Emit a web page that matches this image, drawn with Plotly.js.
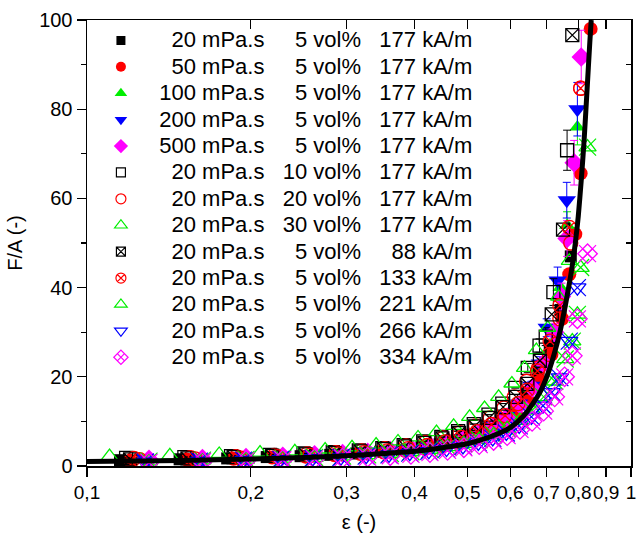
<!DOCTYPE html>
<html><head><meta charset="utf-8">
<script src="https://cdn.plot.ly/plotly-3.0.1.min.js"></script>
<style>html,body{margin:0;padding:0;background:#fff}</style>
</head><body><div id="chart" style="width:638px;height:533px"></div>
<script>
// ---- data ----
const viscosity = [20, 50, 100, 200, 500, 20, 20, 20, 20, 20, 20, 20, 20];
const volumeFraction = [5, 5, 5, 5, 5, 10, 20, 30, 5, 5, 5, 5, 5];
const fieldStrength = [177, 177, 177, 177, 177, 177, 177, 177, 88, 133, 221, 266, 334];
const xTickVals = [0.1, 0.2, 0.3, 0.4, 0.5, 0.6, 0.7, 0.8, 0.9, 1];
const xTickText = ['0,1', '0,2', '0,3', '0,4', '0,5', '0,6', '0,7', '0,8', '0,9', '1'];

const eps1 = [0.115,0.148,0.181,0.214,0.247,0.28,0.313,0.346,0.379,0.412,0.445,0.478,0.511,0.544,0.577,0.61,0.643,0.676,0.709,0.742,0.775];
const fa1  = [1.3,1.5,1.7,2.0,2.2,2.5,2.8,3.2,3.6,4.2,4.9,5.8,6.9,8.3,10.2,12.8,16.0,21,27,35,47];
const eps2 = [0.12,0.153,0.186,0.219,0.252,0.285,0.318,0.351,0.384,0.417,0.45,0.483,0.516,0.549,0.582,0.615,0.648,0.681,0.714,0.747,0.77,0.79,0.808,0.843];
const fa2  = [1.2,1.4,1.6,1.9,2.1,2.4,2.7,3.0,3.4,3.9,4.5,5.3,6.2,7.5,9.2,11.5,14.5,19,25,33,43,52,65.6,98];
const eps3 = [0.125,0.158,0.191,0.224,0.257,0.29,0.323,0.356,0.389,0.422,0.455,0.488,0.521,0.554,0.587,0.62,0.653,0.686,0.719,0.742,0.763,0.797];
const fa3  = [1.4,1.6,1.8,2.1,2.4,2.7,3.0,3.4,3.9,4.5,5.2,6.1,7.3,8.8,10.9,13.6,17.5,23,30,40,54,76];
const err3 = [0,0,0,0,0,0,0,0,0,0,0,0,0,0,0,0,0,1,1.5,2,3,4];
const eps4 = [0.128,0.16,0.194,0.227,0.26,0.293,0.326,0.359,0.392,0.425,0.458,0.491,0.524,0.557,0.59,0.623,0.656,0.68,0.70,0.733,0.762,0.797];
const fa4  = [1.6,1.8,2.0,2.3,2.6,2.9,3.2,3.6,4.1,4.7,5.4,6.3,7.5,9.1,11.2,14,18,23,31,41.6,59.6,80];
const err4 = [0,0,0,0,0,0,0,0,0,0,0,0,0,0,0,0,1,1.5,2,3,4,6];
const eps5 = [0.13,0.163,0.196,0.229,0.262,0.295,0.328,0.361,0.394,0.427,0.46,0.493,0.526,0.559,0.592,0.625,0.658,0.691,0.724,0.745,0.763,0.786,0.81];
const fa5  = [1.5,1.7,1.9,2.2,2.5,2.8,3.1,3.5,4.0,4.6,5.3,6.2,7.4,8.9,11,13.8,17.5,23,30,38,51,68,91.7];
const err5 = [0,0,0,0,0,0,0,0,0,0,0,0,0,0,0,0,0,1.5,2,3,4,5,6];
const eps6 = [0.118,0.151,0.184,0.217,0.25,0.283,0.316,0.349,0.382,0.415,0.448,0.481,0.514,0.547,0.58,0.613,0.646,0.679,0.697,0.72,0.763];
const fa6  = [1.8,2.0,2.2,2.5,2.8,3.1,3.5,4.0,4.7,5.5,6.5,7.8,9.4,11.5,14,17.5,22,27,29,39,70.8];
const err6 = [0,0,0,0,0,0,0,0,0,0,0,0,0,0,0,0,1,1.5,2,3,4.5];
const eps7 = [0.122,0.155,0.188,0.221,0.254,0.287,0.32,0.353,0.386,0.419,0.452,0.485,0.518,0.551,0.584,0.61,0.643,0.676,0.708,0.74,0.775,0.808];
const fa7  = [1.7,1.9,2.1,2.4,2.7,3.0,3.4,3.9,4.5,5.3,6.3,7.5,9.0,10.8,13,15.5,19,22,25,33,50,84.7];
const eps8 = [0.11,0.142,0.175,0.208,0.241,0.274,0.307,0.34,0.373,0.406,0.439,0.472,0.505,0.538,0.571,0.604,0.637,0.67,0.703,0.736,0.77];
const fa8  = [2.2,2.4,2.7,3.0,3.3,3.7,4.2,4.8,5.5,6.4,7.6,9.0,11,13,15.5,18.5,22,26,31,38,46];
const eps9 = [0.12,0.153,0.186,0.219,0.252,0.285,0.318,0.351,0.384,0.417,0.45,0.483,0.516,0.549,0.582,0.615,0.645,0.68,0.715,0.75,0.78];
const fa9  = [1.5,1.7,2.0,2.3,2.6,2.9,3.3,3.8,4.4,5.2,6.2,7.4,8.9,10.8,13.2,15.5,18.4,23.6,34,53,96.6];
const eps10 = [0.125,0.158,0.191,0.224,0.257,0.29,0.323,0.356,0.389,0.422,0.455,0.488,0.521,0.554,0.587,0.62,0.645,0.673,0.71,0.74,0.77,0.808];
const fa10  = [1.4,1.6,1.8,2.1,2.4,2.7,3.0,3.4,3.9,4.6,5.4,6.4,7.7,9.3,11.3,14,17,21.3,28,36,53.5,84.7];
const eps11 = [0.13,0.163,0.196,0.229,0.262,0.295,0.328,0.361,0.394,0.427,0.46,0.493,0.526,0.559,0.592,0.625,0.658,0.691,0.724,0.757,0.78,0.797,0.808,0.832];
const fa11  = [1.1,1.3,1.5,1.7,1.9,2.2,2.5,2.8,3.2,3.7,4.3,5.0,5.9,7.0,8.4,10.2,12.5,15.5,19,24,28,34,44.5,71.5];
const eps12 = [0.128,0.161,0.194,0.227,0.26,0.293,0.326,0.359,0.392,0.425,0.458,0.491,0.524,0.557,0.59,0.623,0.656,0.689,0.715,0.74,0.77,0.797];
const fa12  = [0.9,1.1,1.3,1.5,1.7,1.9,2.2,2.5,2.9,3.3,3.8,4.4,5.2,6.2,7.4,9.0,11,13.5,16.5,19.8,28,40];
const eps13 = [0.13,0.163,0.196,0.229,0.262,0.295,0.328,0.361,0.394,0.427,0.46,0.493,0.526,0.559,0.592,0.625,0.658,0.691,0.724,0.755,0.78,0.797,0.832];
const fa13  = [0.8,1.0,1.2,1.4,1.6,1.8,2.0,2.3,2.6,3.0,3.5,4.1,4.8,5.7,6.8,8.2,10,12.3,15.5,20,24.7,33,47.6];

const fitEps = [0.1,0.15,0.2,0.25,0.3,0.35,0.4,0.45,0.5,0.55,0.6,0.63,0.66,0.68,0.70,0.72,0.74,0.76,0.78,0.79,0.80,0.81,0.82,0.83,0.84,0.845];
const fitFA  = [1.0,1.25,1.55,1.9,2.3,2.8,3.3,4.1,5.0,6.5,8.6,10.8,14,16.5,20,24.5,30,37,45,50,56,64,73,84,95,100];

// ---- styling ----
const epsSets = [eps1,eps2,eps3,eps4,eps5,eps6,eps7,eps8,eps9,eps10,eps11,eps12,eps13];
const faSets  = [fa1,fa2,fa3,fa4,fa5,fa6,fa7,fa8,fa9,fa10,fa11,fa12,fa13];
const errSets = [null,null,err3,err4,err5,err6,null,null,null,null,null,null,null];
const colors  = ['#000000','#ff0000','#00ee00','#0000ff','#ff00ff','#000000','#ff0000','#00ee00','#000000','#ff0000','#00ee00','#0000ff','#ff00ff'];
const symbols = ['square','circle','triangle-up','triangle-down','diamond','square-open','circle-open','triangle-up-open','square-x-open','circle-x-open','triangle-up-open','triangle-down-open','diamond-x-open'];
const overlayX = [false,false,false,false,false,false,false,false,false,false,true,true,true];
const plotSize = [12,14,14,16,15,13,14,14,13,14,15,15,15];
const legSize  = [9,10,11,11,11,9,10,11,9,10,11,11,11];

const NB = '\u00a0';
function padNum(n, w){ const s = String(n); return NB.repeat(2*(w - s.length)) + s; }
function label(i){
  return '<span style="font-size:22px">' + NB + NB + NB + padNum(viscosity[i],3) + ' mPa.s' + NB+NB+NB + padNum(volumeFraction[i],2) + ' vol%' + NB+NB+NB + padNum(fieldStrength[i],3) + ' kA/m</span>';
}

const traces = [];
for (let i = 0; i < 13; i++) {
  const open = symbols[i].indexOf('open') >= 0;
  const tr = {
    x: epsSets[i], y: faSets[i], type: 'scatter', mode: 'markers', showlegend: false,
    marker: {symbol: symbols[i], size: plotSize[i], color: colors[i], line: {color: colors[i], width: open ? 1.3 : 0}},
    hoverinfo: 'x+y'
  };
  if (errSets[i]) tr.error_y = {type: 'data', array: errSets[i], visible: true, color: colors[i], thickness: 1, width: 4};
  traces.push(tr);
  if (overlayX[i]) {
    traces.push({x: epsSets[i], y: faSets[i], type: 'scatter', mode: 'markers', showlegend: false,
      marker: {symbol: 'x-thin-open', size: plotSize[i] + 2, color: colors[i], line: {color: colors[i], width: 1.2}}, hoverinfo: 'skip'});
  }
}
// legend entries
for (let i = 0; i < 13; i++) {
  const open = symbols[i].indexOf('open') >= 0;
  traces.push({x: [null], y: [null], type: 'scatter', mode: 'markers', name: label(i),
    marker: {symbol: symbols[i], size: legSize[i], color: colors[i], line: {color: colors[i], width: open ? 1.2 : 0}}});
}
// fitted curve
traces.push({x: fitEps, y: fitFA, type: 'scatter', mode: 'lines', showlegend: false,
  line: {color: '#000', width: 5, shape: 'spline', smoothing: 0.6}, hoverinfo: 'skip'});
// helper trace for mirrored axes
traces.push({x: [], y: [], xaxis: 'x2', yaxis: 'y2', type: 'scatter', showlegend: false, hoverinfo: 'skip'});

const FONT = 'Liberation Sans, Arial, Helvetica, sans-serif';
const X_RANGE = [-1, 0];
const layout = {
  width: 638, height: 533,
  margin: {l: 87, r: 7, t: 20, b: 67},
  paper_bgcolor: '#fff', plot_bgcolor: '#fff',
  font: {family: FONT, color: '#000', size: 20},
  xaxis: {type: 'log', range: X_RANGE, tickvals: xTickVals, ticktext: xTickText, tickangle: 0,
    ticklabeloverflow: 'allow',
    ticks: 'outside', ticklen: 9, tickwidth: 1.3, tickcolor: '#000',
    showline: true, linewidth: 1.5, linecolor: '#000', mirror: true, automargin: false,
    showgrid: false, zeroline: false, tickfont: {size: 19, family: FONT},
    title: {text: 'ε (-)', font: {size: 20, family: FONT}, standoff: 12}},
  yaxis: {range: [0, 100], tick0: 0, dtick: 20, automargin: false,
    ticks: 'outside', ticklen: 9, tickwidth: 1.3, tickcolor: '#000',
    minor: {dtick: 10, ticks: 'outside', ticklen: 5, tickwidth: 1.3, tickcolor: '#000'},
    showline: true, linewidth: 1.5, linecolor: '#000', mirror: true,
    showgrid: false, zeroline: false, tickfont: {size: 20, family: FONT},
    title: {text: 'F/A (-)', font: {size: 20, family: FONT}, standoff: 11}},
  xaxis2: {overlaying: 'x', side: 'top', anchor: 'y', type: 'log', range: X_RANGE, tickvals: xTickVals,
    ticks: 'inside', ticklen: 9, tickwidth: 1.3, tickcolor: '#000', showticklabels: false,
    showline: false, showgrid: false, zeroline: false},
  yaxis2: {overlaying: 'y', side: 'right', anchor: 'x', range: [0, 100], tick0: 0, dtick: 20,
    ticks: 'inside', ticklen: 9, tickwidth: 1.3, tickcolor: '#000', showticklabels: false,
    minor: {dtick: 10, ticks: 'inside', ticklen: 5, tickwidth: 1.3, tickcolor: '#000'},
    showline: false, showgrid: false, zeroline: false},
  legend: {x: 0.0256, y: 0.995, xanchor: 'left', yanchor: 'top', bgcolor: 'rgba(0,0,0,0)',
    font: {size: 18, family: FONT, color: '#000'}, itemwidth: 30, tracegroupgap: 0},
  showlegend: true
};
Plotly.newPlot('chart', traces, layout, {displayModeBar: false, staticPlot: true});
</script></body></html>
